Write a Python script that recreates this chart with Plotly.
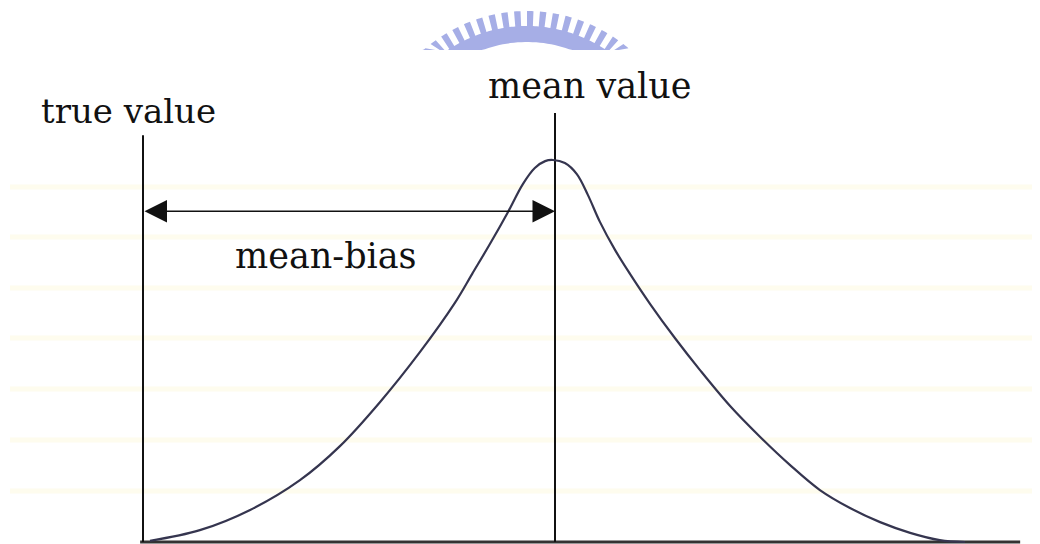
import numpy as np
import plotly.graph_objects as go

# Distribution curve (x: true value = 0, mean value = 10; y: peak = 1)
curve_x = [0.17, 1.38, 2.60, 3.81, 4.78, 5.75, 6.72, 7.57, 7.99, 8.42, 8.86, 9.22, 9.51,
           9.76, 9.95, 10.24, 10.53, 10.80, 11.09, 11.46, 11.82, 12.31, 12.91, 13.52,
           14.25, 14.98, 15.70, 16.43, 17.16, 17.89, 18.62, 19.34, 19.95]
curve_y = [0.003, 0.031, 0.084, 0.162, 0.251, 0.366, 0.497, 0.626, 0.702, 0.780, 0.864,
           0.937, 0.979, 0.997, 1.0, 0.992, 0.963, 0.908, 0.838, 0.764, 0.702, 0.623,
           0.534, 0.450, 0.356, 0.275, 0.202, 0.136, 0.089, 0.052, 0.024, 0.005, 0.0]

true_value = 0.0
mean_value = 10.0
true_line_top = 1.065
mean_line_top = 1.123
bias_arrow_y = 0.866
baseline_x = [-0.07, 21.29]

labels = ['true value', 'mean value', 'mean-bias']
label_x = [-0.36, 10.85, 4.44]
label_y = [1.128, 1.195, 0.749]
label_size = [34, 35, 35]

W, H = 1040, 544
OFF = 8  # page body margin of the html output
INK = '#111111'
SERIF = 'DejaVu Serif, Liberation Serif, serif'

fig = go.Figure()

# baseline
fig.add_trace(go.Scatter(x=baseline_x, y=[0, 0], mode='lines',
                         line=dict(color='#333333', width=3), hoverinfo='skip'))
# true value / mean value markers
fig.add_trace(go.Scatter(x=[true_value, true_value], y=[0, true_line_top], mode='lines',
                         line=dict(color=INK, width=2), hoverinfo='skip'))
fig.add_trace(go.Scatter(x=[mean_value, mean_value], y=[0, mean_line_top], mode='lines',
                         line=dict(color=INK, width=2), hoverinfo='skip'))
# the curve
fig.add_trace(go.Scatter(x=curve_x, y=curve_y, mode='lines',
                         line=dict(color='#35354f', width=2.2, shape='spline', smoothing=1.0),
                         hoverinfo='skip'))

# double arrow for the bias
fig.add_annotation(x=mean_value, y=bias_arrow_y, ax=true_value, ay=bias_arrow_y,
                   xref='x', yref='y', axref='x', ayref='y', text='', showarrow=True,
                   arrowside='end+start', arrowhead=2, arrowsize=3, arrowwidth=1.5,
                   arrowcolor=INK)

for t, x, y, s in zip(labels, label_x, label_y, label_size):
    fig.add_annotation(x=x, y=y, xref='x', yref='y', text=t, showarrow=False,
                       xanchor='center', yanchor='middle',
                       font=dict(family=SERIF, size=s, color=INK))


def to_paper(x, y):
    return (x - OFF) / W, 1 - (y - OFF) / H


# faint ruled lines in the background
shapes = []
for py in [187, 237, 288, 338, 389, 440, 491]:
    x0, y0 = to_paper(10, py)
    x1, _ = to_paper(1040, py)
    shapes.append(dict(type='line', xref='paper', yref='paper', x0=x0, x1=x1,
                       y0=y0, y1=y0, layer='below',
                       line=dict(color='#fefcee', width=5)))

# watermark arc at the top (clipped at y = 50 px)
cx, cy = 527, 168
r_in, r_band, r_tooth = 126, 142, 157
n_teeth = 19
outer = []
ang = np.linspace(-45, 45, n_teeth * 2 + 1)
for i in range(len(ang) - 1):
    r = r_tooth if i % 2 == 1 else r_band
    for a in np.linspace(ang[i], ang[i + 1], 4):
        t = np.radians(a)
        outer.append(to_paper(cx + r * np.sin(t), min(cy - r * np.cos(t), 50)))
inner = []
for a in np.linspace(50, -50, 60):
    t = np.radians(a)
    inner.append(to_paper(cx + r_in * np.sin(t), min(cy - r_in * np.cos(t), 50)))
pts = outer + inner
path = 'M ' + ' L '.join(f'{x:.5f},{y:.5f}' for x, y in pts) + ' Z'
shapes.append(dict(type='path', xref='paper', yref='paper', path=path, layer='below',
                   fillcolor='#a6aee6', line=dict(width=0)))

fig.update_layout(
    width=W, height=H,
    margin=dict(l=0, r=0, t=0, b=0),
    paper_bgcolor='white', plot_bgcolor='white',
    showlegend=False,
    shapes=shapes,
    xaxis=dict(visible=False, range=[(OFF - 143) / 41.2, (W + OFF - 143) / 41.2],
               fixedrange=True),
    yaxis=dict(visible=False, range=[(542 - H - OFF) / 382, (542 - OFF) / 382],
               fixedrange=True),
)

fig.write_html("out.html")
